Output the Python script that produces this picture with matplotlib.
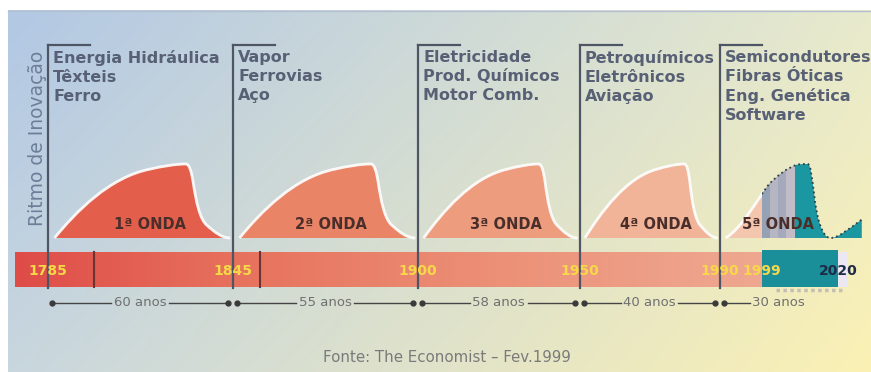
import numpy as np
import matplotlib.pyplot as plt
from matplotlib.path import Path
from matplotlib.patches import PathPatch, Rectangle
from matplotlib.colors import LinearSegmentedColormap
from matplotlib import transforms

W, H = 871, 372

# waves of innovation (Schumpeter / The Economist)
wave_names = ['1ª ONDA', '2ª ONDA', '3ª ONDA', '4ª ONDA', '5ª ONDA']
wave_start = [1785, 1845, 1900, 1950, 1990]
wave_end = [1845, 1900, 1950, 1990, 2020]
span_labels = ['60 anos', '55 anos', '58 anos', '40 anos', '30 anos']
innovations = [
    ['Energia Hidráulica', 'Têxteis', 'Ferro'],
    ['Vapor', 'Ferrovias', 'Aço'],
    ['Eletricidade', 'Prod. Químicos', 'Motor Comb.'],
    ['Petroquímicos', 'Eletrônicos', 'Aviação'],
    ['Semicondutores', 'Fibras Óticas', 'Eng. Genética', 'Software'],
]
year_labels = [1785, 1845, 1900, 1950, 1990, 1999, 2020]
bar_dividers = [1800, 1853]

# the time line is schematic, not to scale: year -> pixel column
axis_years = [1760, 1785, 1845, 1900, 1950, 1990, 1999, 2020, 2035]
axis_px = [-29, 48, 233, 418, 580, 720, 762, 838, 892]


def to_px(year):
    return np.interp(year, axis_years, axis_px)


def to_year(px):
    return np.interp(px, axis_px, axis_years)


# wave outline as bezier control points (fraction of the period, rhythm 0..1)
wave_shape = [(0.035, 0.0),
              (0.15, 0.35), (0.33, 0.82), (0.55, 0.93),
              (0.62, 0.97), (0.69, 1.0), (0.745, 1.0),
              (0.765, 1.0), (0.775, 0.9), (0.785, 0.75),
              (0.80, 0.5), (0.82, 0.25), (0.86, 0.17),
              (0.90, 0.08), (0.94, 0.0), (0.985, 0.0)]
wave5_shape = [(0.04, 0.0),
               (0.15, 0.12), (0.26, 0.5), (0.36, 0.72),
               (0.45, 0.86), (0.54, 0.95), (0.62, 0.99),
               (0.66, 1.0), (0.70, 1.0), (0.72, 1.0),
               (0.75, 1.0), (0.76, 0.8), (0.78, 0.6),
               (0.80, 0.3), (0.85, 0.0), (0.93, 0.0),
               (1.0, 0.0), (1.08, 0.1), (1.22, 0.25)]
wave_colors = ['#e45f4b', '#ea8466', '#ee9c7e', '#f2b498', '#f5c6ae']
label_pos = [0.55, 0.53, 0.54, 0.54, 0.45]


def wave_path(shape, x0, x1, closed):
    v = [(x0 + f * (x1 - x0), h) for f, h in shape]
    codes = [Path.MOVETO] + [Path.CURVE4] * (len(v) - 1)
    if closed:
        v += [(v[-1][0], 0.0), v[0]]
        codes += [Path.LINETO, Path.CLOSEPOLY]
    return Path(v, codes)


fig = plt.figure(figsize=(W / 100, H / 100), dpi=100)

# background panel with a soft blue -> yellow gradient
bg = fig.add_axes([0, 0, 1, 1])
bg.set_xlim(0, W)
bg.set_ylim(H, 0)
bg.axis('off')
tl, tr = np.array([178, 200, 228]), np.array([232, 234, 205])
bl, br = np.array([200, 214, 222]), np.array([251, 241, 180])
u = np.linspace(0, 1, 200)[None, :, None]
v = np.linspace(0, 1, 100)[:, None, None]
grad = ((1 - u) * (1 - v) * tl + u * (1 - v) * tr + (1 - u) * v * bl + u * v * br) / 255
bg.imshow(grad, extent=[8, W, H, 10], aspect='auto', interpolation='bilinear')
bg.plot([8, W], [10.5, 10.5], color='#b4c0d2', lw=1)

# waves, in their own axes (0 = baseline, 1 = peak)
BASE, AMP = 238, 74
axw = fig.add_axes([0, (H - BASE) / H, 1, AMP / H])
axw.set_xscale('function', functions=(to_px, to_year))
axw.set_xlim(to_year(0), to_year(W))
axw.set_ylim(0, 1)
axw.axis('off')
axw.patch.set_alpha(0)

for i in range(4):
    fill = PathPatch(wave_path(wave_shape, wave_start[i], wave_end[i], True),
                     facecolor=wave_colors[i], edgecolor='none', clip_on=False)
    axw.add_patch(fill)
    edge = PathPatch(wave_path(wave_shape, wave_start[i], wave_end[i], False),
                     facecolor='none', edgecolor='white', lw=2, alpha=0.9, clip_on=False)
    axw.add_patch(edge)

# fifth wave: salmon, grey stripes, then teal
w5 = PathPatch(wave_path(wave5_shape, wave_start[4], wave_end[4], True),
               facecolor=wave_colors[4], edgecolor='none', clip_on=False)
axw.add_patch(w5)
stripe_edges = [1999, 2001.2, 2003.4, 2005.7, 2008]
stripe_colors = ['#95a2b6', '#b6b6c2', '#a4aabb', '#c2bcc6']
for a, b, c in zip(stripe_edges[:-1], stripe_edges[1:], stripe_colors):
    r = Rectangle((a, 0), b - a, 1.1, facecolor=c, edgecolor='none')
    axw.add_patch(r)
    r.set_clip_path(w5)
r = Rectangle((2008, 0), 25, 1.1, facecolor='#1a97a0', edgecolor='none')
axw.add_patch(r)
r.set_clip_path(w5)
w5_edge = wave_path(wave5_shape, wave_start[4], wave_end[4], False)
e1 = PathPatch(w5_edge, facecolor='none', edgecolor='white', lw=2, alpha=0.9)
axw.add_patch(e1)
e1.set_clip_path(Rectangle((1980, -1), 19, 3, transform=axw.transData))
e2 = PathPatch(w5_edge, facecolor='none', edgecolor='#2c4048', lw=1.3, ls=':')
axw.add_patch(e2)
e2.set_clip_path(Rectangle((1999, -1), 40, 3, transform=axw.transData))

for i in range(5):
    x = wave_start[i] + label_pos[i] * (wave_end[i] - wave_start[i])
    axw.text(x, 0.18, wave_names[i], ha='center', va='center', fontsize=10.5,
             fontweight='bold', color='#4a2e2a', zorder=5)

# main layer: time bar, boundaries, labels
ax = fig.add_axes([0, 0, 1, 1])
ax.set_xscale('function', functions=(to_px, to_year))
ax.set_xlim(to_year(0), to_year(W))
ax.set_ylim(H, 0)
ax.axis('off')
ax.patch.set_alpha(0)

bar_cmap = LinearSegmentedColormap.from_list(
    'bar', ['#df4c48', '#e7735e', '#ec9077', '#efa790'])
ax.imshow(np.linspace(0, 1, 256)[None, :], cmap=bar_cmap, aspect='auto',
          extent=[to_year(15), 1999, 287, 252], interpolation='bilinear')
ax.add_patch(Rectangle((2020, 252), to_year(847) - 2020, 35,
                       facecolor='#ebe8f4', edgecolor='none'))
ax.add_patch(Rectangle((1999, 250), 21, 37, facecolor='#1a8f99', edgecolor='none'))
ax.plot([2003, 2022], [290, 290], ls=(0, (1, 1)), lw=2.5, color='#8a86a8', alpha=0.45)
for x in bar_dividers:
    ax.plot([x, x], [252, 287], color='#6a3434', lw=1.5)

for i, x in enumerate(wave_start):
    ax.plot([x, x], [45, 288], color='#4e5666', lw=1.6)
    ax.plot([x, to_year(to_px(x) + 42)], [45, 45], color='#4e5666', lw=1.6)
    off = transforms.offset_copy(ax.transData, fig=fig, x=5, y=0, units='dots')
    ax.text(x, 50, '\n'.join(innovations[i]), transform=off, ha='left', va='top',
            fontsize=11.5, fontweight='bold', color='#576075', linespacing=1.32)

for y in year_labels:
    ax.text(y, 271, str(y), ha='center', va='center', fontsize=10, fontweight='bold',
            color='#1e2a48' if y == 2020 else '#f6d848')

# length of each wave under the bar
for i in range(5):
    p0 = to_px(wave_start[i]) + 4
    p1 = to_px(wave_end[i]) - 5
    mid = (p0 + p1) / 2
    ax.plot(to_year([p0, mid - 29]), [303, 303], color='#454545', lw=1)
    ax.plot(to_year(p0), 303, 'o', color='#3a3a3a', ms=3.5)
    if i < 4:
        ax.plot(to_year([mid + 29, p1]), [303, 303], color='#454545', lw=1)
        ax.plot(to_year(p1), 303, 'o', color='#3a3a3a', ms=3.5)
    ax.text(to_year(mid), 303, span_labels[i], ha='center', va='center',
            fontsize=9.5, color='#707070')

ax.text(to_year(38), 138, 'Ritmo de Inovação', rotation=90, ha='center', va='center',
        fontsize=13.5, color='#6d7e98')
ax.text(to_year(447), 357, 'Fonte: The Economist – Fev.1999', ha='center', va='center',
        fontsize=10.8, color='#7a7a7a')

fig.savefig('out.png', dpi=100)
